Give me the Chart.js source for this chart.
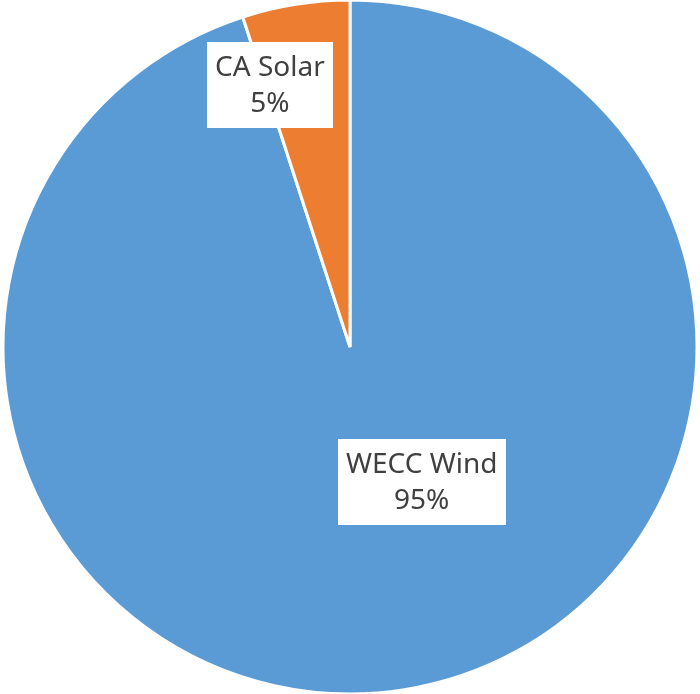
<!DOCTYPE html>
<html>
<head>
<meta charset="utf-8">
<script src="https://cdn.jsdelivr.net/npm/chart.js@4"></script>
<style>
  html, body { margin: 0; padding: 0; background: #fff; }
  canvas { display: block; }
</style>
</head>
<body>
<canvas id="grafico" width="700" height="694"></canvas>
<script>
// Dados
const categorias = ['WECC Wind', 'CA Solar'];
const valores = [95, 5];
const cores = ['#5B9BD5', '#ED7D31'];

// Rótulos com caixa branca (nome + percentual)
// desvio = graus a partir do meio da fatia, raio = fração do raio externo
const posRotulos = [
    { desvio: -19, raio: 0.44 },
    { desvio: -8, raio: 0.79 }
];

const rotulosPlugin = {
    id: 'rotulos',
    afterDatasetsDraw(chart) {
        const ctx = chart.ctx;
        const meta = chart.getDatasetMeta(0);
        const total = valores.reduce((a, b) => a + b, 0);
        ctx.save();
        ctx.font = '28px "Noto Sans"';
        ctx.textAlign = 'center';
        ctx.textBaseline = 'middle';
        meta.data.forEach((arc, i) => {
            const p = arc.getProps(['x', 'y', 'startAngle', 'endAngle', 'outerRadius'], true);
            const meio = (p.startAngle + p.endAngle) / 2 + posRotulos[i].desvio * Math.PI / 180;
            const r = p.outerRadius * posRotulos[i].raio;
            const cx = p.x + Math.cos(meio) * r;
            const cy = p.y + Math.sin(meio) * r;
            const linhas = [categorias[i], Math.round(valores[i] / total * 100) + '%'];
            const larg = Math.max(...linhas.map(t => ctx.measureText(t).width)) + 16;
            const alt = 86;
            ctx.fillStyle = '#ffffff';
            ctx.fillRect(Math.round(cx - larg / 2), Math.round(cy - alt / 2), Math.round(larg), alt);
            ctx.fillStyle = '#404040';
            ctx.fillText(linhas[0], cx, cy - 17);
            ctx.fillText(linhas[1], cx, cy + 19);
        });
        ctx.restore();
    }
};

window.onload = function() {
    new Chart(document.getElementById('grafico'), {
        type: 'pie',
        data: {
            labels: categorias,
            datasets: [{
                data: valores,
                backgroundColor: cores,
                borderColor: '#ffffff',
                borderWidth: 3,
                radius: 347
            }]
        },
        options: {
            responsive: false,
            animation: false,
            layout: { padding: 0 },
            plugins: {
                legend: { display: false },
                tooltip: { enabled: false }
            }
        },
        plugins: [rotulosPlugin]
    });
};
</script>
</body>
</html>
